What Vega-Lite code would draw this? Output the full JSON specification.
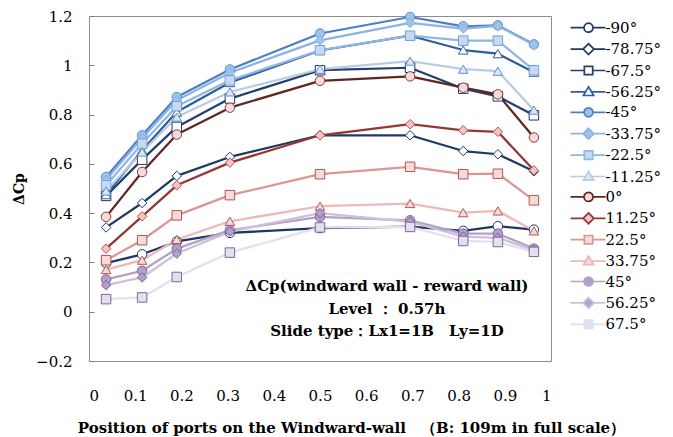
{
  "$schema": "https://vega.github.io/schema/vega-lite/v6.json",
  "width": 462,
  "height": 345,
  "autosize": {"type": "none"},
  "padding": {"left": 89, "top": 16, "right": 122, "bottom": 76},
  "background": "white",
  "config": {
    "view": {"stroke": "#8C8C8C", "strokeWidth": 1},
    "font": "DejaVu Serif",
    "axis": {"labelFont": "DejaVu Serif", "labelFontSize": 15, "labelColor": "#000", "titleFont": "DejaVu Serif", "titleColor": "#000", "domain": false, "gridColor": "#C0C0C0", "gridWidth": 1}
  },
  "data": {"values": [
    {"s":"-90°","x":0.037,"y":0.197},{"s":"-90°","x":0.115,"y":0.233},{"s":"-90°","x":0.19,"y":0.285},{"s":"-90°","x":0.305,"y":0.32},{"s":"-90°","x":0.5,"y":0.339},{"s":"-90°","x":0.695,"y":0.345},{"s":"-90°","x":0.81,"y":0.328},{"s":"-90°","x":0.885,"y":0.347},{"s":"-90°","x":0.963,"y":0.333},
    {"s":"-78.75°","x":0.037,"y":0.342},{"s":"-78.75°","x":0.115,"y":0.441},{"s":"-78.75°","x":0.19,"y":0.551},{"s":"-78.75°","x":0.305,"y":0.628},{"s":"-78.75°","x":0.5,"y":0.716},{"s":"-78.75°","x":0.695,"y":0.716},{"s":"-78.75°","x":0.81,"y":0.652},{"s":"-78.75°","x":0.885,"y":0.639},{"s":"-78.75°","x":0.963,"y":0.57},
    {"s":"-67.5°","x":0.037,"y":0.47},{"s":"-67.5°","x":0.115,"y":0.617},{"s":"-67.5°","x":0.19,"y":0.75},{"s":"-67.5°","x":0.305,"y":0.865},{"s":"-67.5°","x":0.5,"y":0.98},{"s":"-67.5°","x":0.695,"y":0.99},{"s":"-67.5°","x":0.81,"y":0.905},{"s":"-67.5°","x":0.885,"y":0.874},{"s":"-67.5°","x":0.963,"y":0.797},
    {"s":"-56.25°","x":0.037,"y":0.475},{"s":"-56.25°","x":0.115,"y":0.655},{"s":"-56.25°","x":0.19,"y":0.81},{"s":"-56.25°","x":0.305,"y":0.93},{"s":"-56.25°","x":0.5,"y":1.06},{"s":"-56.25°","x":0.695,"y":1.12},{"s":"-56.25°","x":0.81,"y":1.062},{"s":"-56.25°","x":0.885,"y":1.047},{"s":"-56.25°","x":0.963,"y":0.972},
    {"s":"-45°","x":0.037,"y":0.547},{"s":"-45°","x":0.115,"y":0.716},{"s":"-45°","x":0.19,"y":0.871},{"s":"-45°","x":0.305,"y":0.983},{"s":"-45°","x":0.5,"y":1.129},{"s":"-45°","x":0.695,"y":1.196},{"s":"-45°","x":0.81,"y":1.158},{"s":"-45°","x":0.885,"y":1.162},{"s":"-45°","x":0.963,"y":1.085},
    {"s":"-33.75°","x":0.037,"y":0.535},{"s":"-33.75°","x":0.115,"y":0.705},{"s":"-33.75°","x":0.19,"y":0.858},{"s":"-33.75°","x":0.305,"y":0.97},{"s":"-33.75°","x":0.5,"y":1.101},{"s":"-33.75°","x":0.695,"y":1.172},{"s":"-33.75°","x":0.81,"y":1.149},{"s":"-33.75°","x":0.885,"y":1.16},{"s":"-33.75°","x":0.963,"y":1.083},
    {"s":"-22.5°","x":0.037,"y":0.513},{"s":"-22.5°","x":0.115,"y":0.682},{"s":"-22.5°","x":0.19,"y":0.834},{"s":"-22.5°","x":0.305,"y":0.939},{"s":"-22.5°","x":0.5,"y":1.061},{"s":"-22.5°","x":0.695,"y":1.12},{"s":"-22.5°","x":0.81,"y":1.1},{"s":"-22.5°","x":0.885,"y":1.1},{"s":"-22.5°","x":0.963,"y":0.98},
    {"s":"-11.25°","x":0.037,"y":0.49},{"s":"-11.25°","x":0.115,"y":0.648},{"s":"-11.25°","x":0.19,"y":0.79},{"s":"-11.25°","x":0.305,"y":0.892},{"s":"-11.25°","x":0.5,"y":0.984},{"s":"-11.25°","x":0.695,"y":1.017},{"s":"-11.25°","x":0.81,"y":0.984},{"s":"-11.25°","x":0.885,"y":0.976},{"s":"-11.25°","x":0.963,"y":0.818},
    {"s":"0°","x":0.037,"y":0.385},{"s":"0°","x":0.115,"y":0.567},{"s":"0°","x":0.19,"y":0.719},{"s":"0°","x":0.305,"y":0.828},{"s":"0°","x":0.5,"y":0.937},{"s":"0°","x":0.695,"y":0.955},{"s":"0°","x":0.81,"y":0.909},{"s":"0°","x":0.885,"y":0.882},{"s":"0°","x":0.963,"y":0.707},
    {"s":"11.25°","x":0.037,"y":0.256},{"s":"11.25°","x":0.115,"y":0.387},{"s":"11.25°","x":0.19,"y":0.513},{"s":"11.25°","x":0.305,"y":0.605},{"s":"11.25°","x":0.5,"y":0.716},{"s":"11.25°","x":0.695,"y":0.761},{"s":"11.25°","x":0.81,"y":0.736},{"s":"11.25°","x":0.885,"y":0.73},{"s":"11.25°","x":0.963,"y":0.574},
    {"s":"22.5°","x":0.037,"y":0.209},{"s":"22.5°","x":0.115,"y":0.29},{"s":"22.5°","x":0.19,"y":0.391},{"s":"22.5°","x":0.305,"y":0.473},{"s":"22.5°","x":0.5,"y":0.558},{"s":"22.5°","x":0.695,"y":0.588},{"s":"22.5°","x":0.81,"y":0.558},{"s":"22.5°","x":0.885,"y":0.56},{"s":"22.5°","x":0.963,"y":0.452},
    {"s":"33.75°","x":0.037,"y":0.171},{"s":"33.75°","x":0.115,"y":0.209},{"s":"33.75°","x":0.19,"y":0.293},{"s":"33.75°","x":0.305,"y":0.367},{"s":"33.75°","x":0.5,"y":0.428},{"s":"33.75°","x":0.695,"y":0.439},{"s":"33.75°","x":0.81,"y":0.402},{"s":"33.75°","x":0.885,"y":0.409},{"s":"33.75°","x":0.963,"y":0.328},
    {"s":"45°","x":0.037,"y":0.131},{"s":"45°","x":0.115,"y":0.166},{"s":"45°","x":0.19,"y":0.256},{"s":"45°","x":0.305,"y":0.331},{"s":"45°","x":0.5,"y":0.385},{"s":"45°","x":0.695,"y":0.371},{"s":"45°","x":0.81,"y":0.317},{"s":"45°","x":0.885,"y":0.317},{"s":"45°","x":0.963,"y":0.256},
    {"s":"56.25°","x":0.037,"y":0.108},{"s":"56.25°","x":0.115,"y":0.139},{"s":"56.25°","x":0.19,"y":0.236},{"s":"56.25°","x":0.305,"y":0.325},{"s":"56.25°","x":0.5,"y":0.4},{"s":"56.25°","x":0.695,"y":0.365},{"s":"56.25°","x":0.81,"y":0.305},{"s":"56.25°","x":0.885,"y":0.3},{"s":"56.25°","x":0.963,"y":0.25},
    {"s":"67.5°","x":0.037,"y":0.051},{"s":"67.5°","x":0.115,"y":0.058},{"s":"67.5°","x":0.19,"y":0.141},{"s":"67.5°","x":0.305,"y":0.24},{"s":"67.5°","x":0.5,"y":0.342},{"s":"67.5°","x":0.695,"y":0.344},{"s":"67.5°","x":0.81,"y":0.287},{"s":"67.5°","x":0.885,"y":0.283},{"s":"67.5°","x":0.963,"y":0.243}
  ]},
  "layer": [
    {
      "data": {"values": [{}]},
      "mark": {"type": "rect", "fill": "white", "stroke": null},
      "encoding": {
        "x": {"datum": 0.327, "type": "quantitative"},
        "x2": {"datum": 0.961},
        "y": {"datum": 0.197, "type": "quantitative"},
        "y2": {"datum": -0.128}
      }
    },
    {
      "mark": {"type": "line", "strokeJoin": "round"},
      "encoding": {
        "x": {"field": "x", "type": "quantitative", "scale": {"domain": [0, 1], "nice": false, "zero": false},
          "axis": {"values": [0, 0.1, 0.2, 0.3, 0.4, 0.5, 0.6, 0.7, 0.8, 0.9, 1], "format": "~g", "ticks": false, "labelPadding": 27,
            "labelOpacity": {"condition": {"test": "abs(round(datum.value*10)) % 2 == 1", "value": 0}, "value": 1},
            "title": "Position of ports on the Windward-wall\u3000（B: 109m in full scale）", "titleFontSize": 15, "titleFontWeight": "bold", "titlePadding": 17, "titleX": 262, "titleAlign": "center"}},
        "y": {"field": "y", "type": "quantitative", "scale": {"domain": [-0.2, 1.2], "nice": false, "zero": false},
          "axis": {"values": [-0.2, -0.1, 0, 0.1, 0.2, 0.3, 0.4, 0.5, 0.6, 0.7, 0.8, 0.9, 1, 1.1, 1.2], "format": "~g", "offset": -5, "tickSize": 5, "tickColor": "#808080", "tickWidth": 1, "labelPadding": 17,
            "gridOpacity": {"condition": {"test": "abs(round(datum.value*10)) % 2 == 1", "value": 0}, "value": 1},
            "labelOpacity": {"condition": {"test": "abs(round(datum.value*10)) % 2 == 1", "value": 0}, "value": 1},
            "title": "ΔCp", "titleFontSize": 14, "titleFontWeight": "bold", "titlePadding": 9}},
        "color": {"field": "s", "type": "nominal",
          "scale": {"domain": ["-90°","-78.75°","-67.5°","-56.25°","-45°","-33.75°","-22.5°","-11.25°","0°","11.25°","22.5°","33.75°","45°","56.25°","67.5°"],
            "range": ["#1F3864","#1F3864","#22406E","#2F5E9E","#4A7FC9","#8DB3E2","#8FB6E4","#B8CCE4","#632523","#943634","#DA9694","#EDB8B7","#B3A2C7","#CCC0DA","#E4DFEC"]},
          "legend": {"orient": "none", "legendX": 516.5, "legendY": 11.7, "padding": 0, "title": null, "labelFont": "DejaVu Serif", "labelFontSize": 15, "labelColor": "#000", "symbolSize": 144, "rowPadding": 4.4,
            "encoding": {"symbols": {
              "shape": {"value": {"expr": "scale('shape', datum.value) == 'circle' ? 'M-5.83,0H-3.58M-2.08,0H0M-2.08,0A0.75,0.75,0,1,1,-3.58,0A0.75,0.75,0,1,1,-2.08,0Z' : scale('shape', datum.value) == 'diamond' ? 'M-5.83,0H-3.73M-1.93,0H0M-2.83,-0.9L-1.93,0L-2.83,0.9L-3.73,0Z' : scale('shape', datum.value) == 'square' ? 'M-5.83,0H-3.53M-2.13,0H0M-3.53,-0.7H-2.13V0.7H-3.53Z' : 'M-5.83,0H-3.33M-2.33,0H0M-2.83,-0.85L-1.98,0.6L-3.68,0.6Z'"}},
              "fill": {"value": {"expr": "scale('fill', datum.value)"}},
              "stroke": {"value": {"expr": "scale('color', datum.value)"}},
              "strokeWidth": {"value": {"expr": "min(3.5, scale('strokeWidth', datum.value) * 0.75)"}},
              "opacity": {"value": 1}
            }}}},
        "strokeWidth": {"field": "s", "type": "nominal", "legend": null,
          "scale": {"domain": ["67.5°","56.25°","45°","33.75°","22.5°","11.25°","0°","-11.25°","-22.5°","-33.75°","-45°","-56.25°","-67.5°","-78.75°","-90°"],
            "range": [2.25, 2.25, 4, 2.25, 2.25, 2.25, 2.25, 6.5, 5, 5, 5, 3.5, 2.25, 2.25, 2.25]}}
      }
    },
    {
      "mark": {"type": "point", "size": 90, "strokeWidth": 1, "opacity": 1},
      "encoding": {
        "x": {"field": "x", "type": "quantitative"},
        "y": {"field": "y", "type": "quantitative"},
        "shape": {"field": "s", "type": "nominal", "legend": null,
          "scale": {"domain": ["67.5°","56.25°","45°","33.75°","22.5°","11.25°","0°","-11.25°","-22.5°","-33.75°","-45°","-56.25°","-67.5°","-78.75°","-90°"],
            "range": ["square","diamond","circle","triangle-up","square","diamond","circle","triangle-up","square","diamond","circle","triangle-up","square","diamond","circle"]}},
        "fill": {"field": "s", "type": "nominal", "legend": null,
          "scale": {"domain": ["67.5°","56.25°","45°","33.75°","22.5°","11.25°","0°","-11.25°","-22.5°","-33.75°","-45°","-56.25°","-67.5°","-78.75°","-90°"],
            "range": ["#E4DFEC","#B1A0C7","#B1A0C7","#F2DCDB","#F2DCDB","#F2C4C3","#F2DCDB","#DCE6F2","#C6D9F1","#9DC3E6","#9DC3E6","#FFFFFF","#FFFFFF","#FFFFFF","#FFFFFF"]}},
        "stroke": {"field": "s", "type": "nominal", "legend": null,
          "scale": {"domain": ["67.5°","56.25°","45°","33.75°","22.5°","11.25°","0°","-11.25°","-22.5°","-33.75°","-45°","-56.25°","-67.5°","-78.75°","-90°"],
            "range": ["#8064A2","#8064A2","#8064A2","#C0504D","#C0504D","#C0504D","#953735","#5B8FD6","#6FA0DC","#8DB3E2","#5B8FD6","#2F5E9E","#1F3864","#1F3864","#1F3864"]}}
      }
    },
    {
      "data": {"values": [{}]},
      "mark": {"type": "text", "text": ["ΔCp(windward wall - reward wall)", "Level ： 0.57h", "Slide type：Lx1=1B\u3000Ly=1D"], "font": "DejaVu Serif", "fontSize": 15, "fontWeight": "bold", "lineHeight": 22.5, "align": "center", "baseline": "middle", "color": "#000"},
      "encoding": {
        "x": {"datum": 0.645, "type": "quantitative"},
        "y": {"datum": 0.103, "type": "quantitative"}
      }
    }
  ]
}
